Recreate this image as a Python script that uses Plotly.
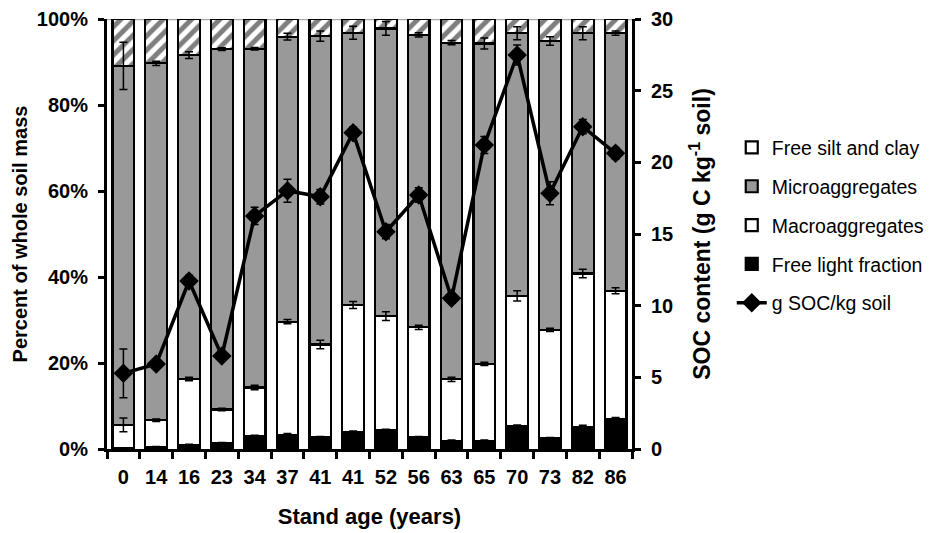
import plotly.graph_objects as go

ages = ["0", "14", "16", "23", "34", "37", "41", "41", "52", "56", "63", "65", "70", "73", "82", "86"]

# segment percentages (bottom to top)
light = [0.2, 0.4, 0.9, 1.3, 2.9, 3.3, 2.7, 3.9, 4.3, 2.7, 1.9, 1.9, 5.3, 2.5, 5.2, 7.0]
macro = [5.4, 6.3, 15.4, 7.9, 11.4, 26.3, 21.6, 29.6, 26.6, 25.6, 14.3, 17.9, 30.3, 25.2, 35.6, 29.8]
micro = [83.5, 83.0, 75.3, 83.8, 78.8, 66.3, 71.7, 63.3, 66.9, 68.0, 78.3, 74.5, 61.1, 67.2, 55.9, 59.9]
silt = [10.9, 10.3, 8.4, 7.0, 6.9, 4.1, 4.0, 3.2, 2.2, 3.7, 5.5, 5.7, 3.3, 5.1, 3.3, 3.3]

light_err = [0.1, 0.2, 0.2, 0.2, 0.3, 0.3, 0.2, 0.3, 0.3, 0.2, 0.2, 0.2, 0.3, 0.2, 0.3, 0.3]
macro_err = [1.6, 0.3, 0.4, 0.3, 0.5, 0.5, 1.0, 0.8, 1.0, 0.5, 0.5, 0.4, 1.2, 0.4, 1.0, 0.7]
micro_err = [5.5, 0.5, 0.8, 0.3, 0.3, 0.8, 1.2, 1.5, 1.6, 0.5, 0.5, 1.3, 1.5, 1.0, 1.5, 0.5]

soc = [5.28, 5.93, 11.72, 6.49, 16.26, 18.02, 17.6, 22.07, 15.16, 17.72, 10.51, 21.21, 27.49, 17.84, 22.49, 20.63]
soc_err = [1.7, 0.3, 0.4, 0.3, 0.6, 0.8, 0.5, 0.4, 0.5, 0.5, 0.3, 0.6, 0.7, 0.8, 0.5, 0.4]

pct_ticks = [0, 20, 40, 60, 80, 100]
soc_ticks = [0, 5, 10, 15, 20, 25, 30]

xs = list(range(len(ages)))
FONT = "Liberation Sans, Arial, sans-serif"
GRAY = "#999999"
BW = 0.66
outline = dict(color="black", width=2.2)

fig = go.Figure()

fig.add_trace(go.Bar(x=xs, y=light, name="Free light fraction", width=BW,
                     marker=dict(color="black", line=outline), legendrank=4,
                     legendgroup="d"))
fig.add_trace(go.Bar(x=xs, y=macro, name="Macroaggregates", width=BW,
                     marker=dict(color="white", line=outline), legendrank=3,
                     legendgroup="c"))
fig.add_trace(go.Bar(x=xs, y=micro, name="Microaggregates", width=BW,
                     marker=dict(color=GRAY, line=outline), legendrank=2,
                     legendgroup="b"))
fig.add_trace(go.Bar(x=xs, y=silt, name="Free silt and clay", width=BW, showlegend=False,
                     marker=dict(color="white", line=outline,
                                 pattern=dict(shape="/", fgcolor="black", bgcolor="white",
                                              size=10, solidity=0.5))))
# legend-only entry for free silt and clay (white box as in the original legend)
fig.add_trace(go.Bar(x=[None], y=[None], name="Free silt and clay",
                     marker=dict(color="white", line=outline), legendrank=1,
                     legendgroup="a"))

# error bars at segment tops
c1 = [l for l in light]
c2 = [l + m for l, m in zip(light, macro)]
c3 = [l + m + mi for l, m, mi in zip(light, macro, micro)]
for ys, es in ((c1, light_err), (c2, macro_err), (c3, micro_err)):
    fig.add_trace(go.Scatter(x=xs, y=ys, mode="markers", showlegend=False, hoverinfo="skip",
                             marker=dict(size=1, color="rgba(0,0,0,0)"),
                             error_y=dict(type="data", array=es, color="black",
                                          thickness=1.5, width=4)))

fig.add_trace(go.Scatter(x=xs, y=soc, yaxis="y2", name="g SOC/kg soil", mode="lines+markers",
                         line=dict(color="black", width=3.5),
                         marker=dict(symbol="diamond", size=15, color="black"),
                         error_y=dict(type="data", array=soc_err, color="black",
                                      thickness=1.5, width=4),
                         legendrank=5, legendgroup="e"))

fig.add_shape(type="line", xref="paper", yref="y", x0=0, x1=1, y0=100, y1=100,
              line=dict(color="#aaaaaa", width=2.5), layer="below")

boundaries = [i - 0.5 for i in range(len(ages) + 1)]

fig.update_layout(
    width=934, height=533,
    margin=dict(l=107, r=302, t=19, b=84, autoexpand=False),
    paper_bgcolor="white", plot_bgcolor="white",
    barmode="stack", bargap=0.3,
    font=dict(family=FONT, color="black"),
    showlegend=True,
    legend=dict(x=1.19, y=0.746, xanchor="left", yanchor="top",
                font=dict(size=19.5, family=FONT, color="black"),
                traceorder="grouped", tracegroupgap=10.5, itemwidth=30,
                bgcolor="rgba(0,0,0,0)"),
    xaxis=dict(range=[-0.5, 15.5], tickmode="array", tickvals=xs, ticktext=ages,
               ticks="", showgrid=False, zeroline=False, ticklabelstandoff=8,
               showline=True, linecolor="black", linewidth=3, automargin=False,
               tickfont=dict(size=20, family=FONT, weight="bold"),
               minor=dict(tickmode="array", tickvals=boundaries, ticks="outside",
                          ticklen=7, tickwidth=2.5, tickcolor="black", showgrid=False),
               title=dict(text="Stand age (years)", standoff=22,
                          font=dict(size=22, family=FONT, weight="bold"))),
    yaxis=dict(range=[0, 100], tickmode="array", tickvals=pct_ticks,
               ticktext=[f"{v}%" for v in pct_ticks], ticklabelstandoff=6,
               ticks="outside", ticklen=6, tickwidth=2.5, tickcolor="black", automargin=False,
               showgrid=False, zeroline=False, showline=True, linecolor="black", linewidth=3,
               tickfont=dict(size=20, family=FONT, weight="bold"),
               title=dict(text="Percent of whole soil mass", standoff=4,
                          font=dict(size=20, family=FONT, weight="bold"))),
    yaxis2=dict(range=[0, 30], tickmode="array", tickvals=soc_ticks,
                ticktext=[str(v) for v in soc_ticks], ticklabelstandoff=6,
                overlaying="y", side="right", anchor="x", automargin=False,
                ticks="outside", ticklen=6, tickwidth=2.5, tickcolor="black",
                showgrid=False, zeroline=False, showline=True, linecolor="black", linewidth=3,
                tickfont=dict(size=20, family=FONT, weight="bold"),
                title=dict(text="SOC content (g C kg<sup>-1</sup> soil)", standoff=22,
                           font=dict(size=23, family=FONT, weight="bold"))),
)

fig.write_html("out.html")
